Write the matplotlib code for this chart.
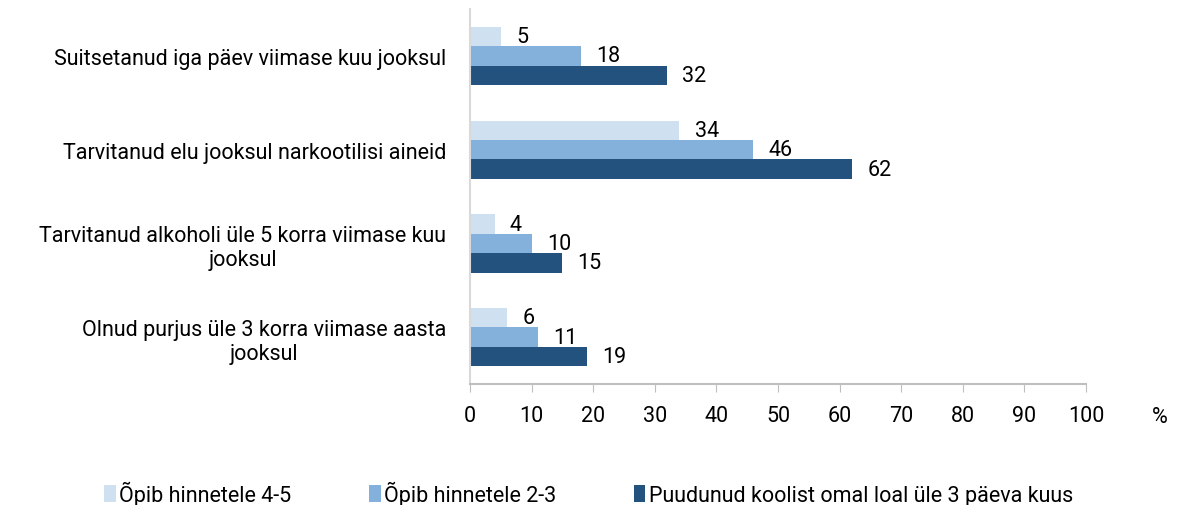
import numpy as np
import matplotlib.pyplot as plt

plt.rcParams['font.family'] = ['Roboto', 'DejaVu Sans']

categories = [
    "Suitsetanud iga päev viimase kuu jooksul",
    "Tarvitanud elu jooksul narkootilisi aineid",
    "Tarvitanud alkoholi üle 5 korra viimase kuu\njooksul",
    "Olnud purjus üle 3 korra viimase aasta\njooksul",
]
series_names = ["Õpib hinnetele 4-5", "Õpib hinnetele 2-3",
                "Puudunud koolist omal loal üle 3 päeva kuus"]
grades_45 = [5, 34, 4, 6]
grades_23 = [18, 46, 10, 11]
absent = [32, 62, 15, 19]
colors = ["#cfe0f1", "#84b0dc", "#24527e"]

fs = 15.5

fig = plt.figure(figsize=(11.77, 5.06), dpi=100)
ax = fig.add_axes([0.3993, 0.239, 0.5234, 0.741])

n = len(categories)
y = np.arange(n)
h = 0.207
series = [grades_45, grades_23, absent]
for i, (vals, name, col) in enumerate(zip(series, series_names, colors)):
    pos = y + (i - 1) * h
    ax.barh(pos, vals, height=h, color=col, label=name, edgecolor='none')
    for p, v in zip(pos, vals):
        ax.annotate(str(v), (v, p), xytext=(11, 0), textcoords='offset points',
                    va='center', ha='left', fontsize=fs)

ax.set_ylim(n - 0.5, -0.5)
ax.set_xlim(0, 100)
ax.set_xticks(range(0, 101, 10))
ax.set_yticks(y)
ax.set_yticklabels(categories, fontsize=fs, ha='right', multialignment='center')
ax.tick_params(axis='y', length=0, pad=17)
ax.tick_params(axis='x', direction='out', length=6, color='#bfbfbf', labelsize=fs, pad=9)
for s in ['top', 'right']:
    ax.spines[s].set_visible(False)
ax.spines['left'].set_color('#d9d9d9')
ax.spines['bottom'].set_color('#bfbfbf')
ax.spines['left'].set_linewidth(1.5)
ax.spines['bottom'].set_linewidth(1.5)
fig.text(0.985, 0.175, "%", fontsize=fs, ha='center', va='center')

fig.legend(loc='lower center', bbox_to_anchor=(0.5, -0.04), ncol=3, frameon=False,
           fontsize=fs, handlelength=0.55, handleheight=0.8, handletextpad=0.15,
           columnspacing=3.6)

fig.savefig("out.png", dpi=100)
